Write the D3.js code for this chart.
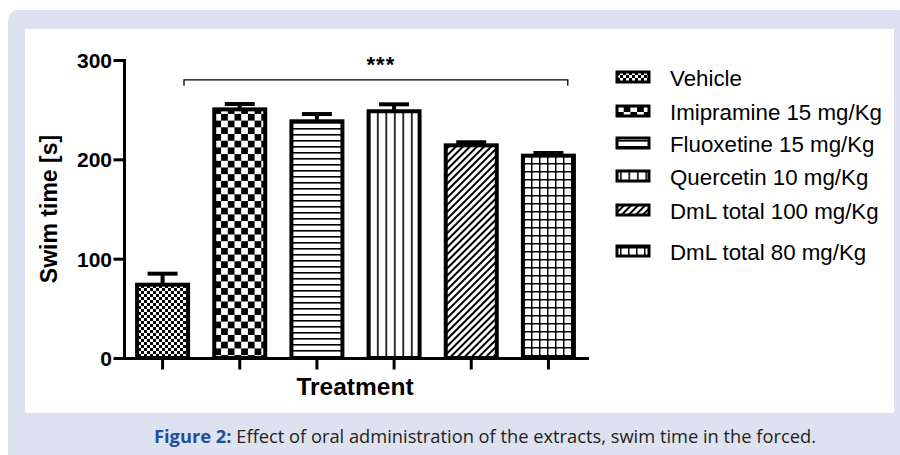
<!DOCTYPE html>
<html lang="en">
<head>
    <meta charset="UTF-8">
    <title>Swim time in the forced swimming test</title>
    <style>
        body { margin: 0; background: #fff; }
        svg { display: block; }
        .lab { font-family: "Liberation Sans", Arial, sans-serif; fill: #000; }
    </style>
    <script src="https://d3js.org/d3.v7.min.js"></script>
</head>
<body>
    <div id="chart"></div>
    <script>
        // values (mean and SEM, seconds)
        const groups = ["Vehicle", "Imipramine 15 mg/Kg", "Fluoxetine 15 mg/Kg",
            "Quercetin 10 mg/Kg", "DmL total 100 mg/Kg", "DmL total 80 mg/Kg"];
        const means = [73.8, 250.3, 238.3, 248.4, 214.1, 203.7];
        const sems = [11.1, 5.4, 7.3, 7.0, 3.1, 2.7];
        const fills = ["p-fine", "p-check", "p-hline", "p-vline", "p-diag", "p-grid"];
        const yTicks = [0, 100, 200, 300];
        const sigLevel = 280;   // height of the *** bracket
        const sigLabel = "***";

        const W = 900, H = 455;
        const svg = d3.select("#chart").append("svg")
            .attr("width", W).attr("height", H);

        // patterns
        const defs = svg.append("defs");
        function pat(id, w, h, transform) {
            const p = defs.append("pattern").attr("id", id)
                .attr("patternUnits", "userSpaceOnUse")
                .attr("width", w).attr("height", h);
            if (transform) p.attr("patternTransform", transform);
            p.append("rect").attr("width", w).attr("height", h).attr("fill", "#fff");
            return p;
        }
        let p = pat("p-fine", 6, 6);
        p.append("rect").attr("width", 3).attr("height", 3).attr("fill", "#000");
        p.append("rect").attr("x", 3).attr("y", 3).attr("width", 3).attr("height", 3).attr("fill", "#000");
        p = pat("p-check", 13.4, 13.4);
        p.append("rect").attr("width", 6.7).attr("height", 6.7).attr("fill", "#000");
        p.append("rect").attr("x", 6.7).attr("y", 6.7).attr("width", 6.7).attr("height", 6.7).attr("fill", "#000");
        p = pat("p-hline", 10, 6);
        p.append("rect").attr("y", 2).attr("width", 10).attr("height", 1.6).attr("fill", "#000");
        p = pat("p-vline", 8.5, 10);
        p.append("rect").attr("x", 3).attr("width", 1.6).attr("height", 10).attr("fill", "#000");
        p = pat("p-diag", 5, 10, "rotate(45)");
        p.append("rect").attr("x", 0).attr("width", 2).attr("height", 10).attr("fill", "#000");
        p = pat("p-grid", 8, 8);
        p.append("rect").attr("x", 3).attr("width", 1.5).attr("height", 8).attr("fill", "#000");
        p.append("rect").attr("y", 3).attr("width", 8).attr("height", 1.5).attr("fill", "#000");

        // frame
        svg.append("rect").attr("x", 8).attr("y", 10).attr("width", W).attr("height", H)
            .attr("rx", 10).attr("fill", "#dee1ef");
        svg.append("rect").attr("x", 25).attr("y", 29).attr("width", 869).attr("height", 384)
            .attr("fill", "#fff");

        // scales
        const x = d3.scaleBand().domain(groups).range([124, 587])
            .paddingInner(0.339).paddingOuter(0.1695);
        const y = d3.scaleLinear().domain([0, 300]).range([358, 60]);

        const plot = svg.append("g");

        // bars
        plot.selectAll("rect.bar").data(groups).join("rect")
            .attr("class", "bar")
            .attr("x", d => x(d))
            .attr("y", (d, i) => y(means[i]))
            .attr("width", x.bandwidth())
            .attr("height", (d, i) => y(0) - y(means[i]))
            .attr("fill", (d, i) => `url(#${fills[i]})`)
            .attr("stroke", "#000").attr("stroke-width", 4);

        // error bars
        const eb = plot.selectAll("g.eb").data(groups).join("g").attr("class", "eb");
        eb.append("line")
            .attr("x1", d => x(d) + x.bandwidth() / 2).attr("x2", d => x(d) + x.bandwidth() / 2)
            .attr("y1", (d, i) => y(means[i])).attr("y2", (d, i) => y(means[i] + sems[i]))
            .attr("stroke", "#000").attr("stroke-width", 4);
        eb.append("line")
            .attr("x1", d => x(d) + x.bandwidth() / 2 - 15).attr("x2", d => x(d) + x.bandwidth() / 2 + 15)
            .attr("y1", (d, i) => y(means[i] + sems[i])).attr("y2", (d, i) => y(means[i] + sems[i]))
            .attr("stroke", "#000").attr("stroke-width", 4);

        // significance bracket
        const bx1 = x(groups[0]) + x.bandwidth() * 0.92;
        const bx2 = x(groups[5]) + x.bandwidth() * 0.88;
        plot.append("path")
            .attr("d", `M${bx1},${y(sigLevel - 6)}V${y(sigLevel)}H${bx2}V${y(sigLevel - 6)}`)
            .attr("fill", "none").attr("stroke", "#000").attr("stroke-width", 1.3);
        plot.append("text").attr("class", "lab")
            .attr("x", (bx1 + bx2) / 2 + 5).attr("y", 72)
            .attr("text-anchor", "middle")
            .attr("font-size", 22).attr("font-weight", "bold")
            .attr("letter-spacing", 1)
            .text(sigLabel);

        // axes
        const yAxis = svg.append("g")
            .attr("transform", "translate(124,0)")
            .call(d3.axisLeft(y).tickValues(yTicks).tickSize(9).tickSizeOuter(0).tickPadding(3));
        const xAxis = svg.append("g")
            .attr("transform", "translate(0,358)")
            .call(d3.axisBottom(x).tickSize(10).tickSizeOuter(0).tickFormat(""));
        [yAxis, xAxis].forEach(a => {
            a.selectAll("path, line").attr("stroke", "#000").attr("stroke-width", 3)
                .attr("stroke-linecap", "square");
            a.selectAll("text").attr("class", "lab")
                .attr("font-size", 21).attr("font-weight", "bold").attr("fill", "#000");
        });
        yAxis.selectAll("text").attr("dy", "0.36em");

        // axis titles
        svg.append("text").attr("class", "lab")
            .attr("transform", "translate(57,209) rotate(-90)")
            .attr("text-anchor", "middle")
            .attr("font-size", 23).attr("font-weight", "bold")
            .text("Swim time [s]");
        svg.append("text").attr("class", "lab")
            .attr("x", 355).attr("y", 395)
            .attr("text-anchor", "middle")
            .attr("font-size", 24.5).attr("font-weight", "bold")
            .text("Treatment");

        // legend
        const rowY = [78, 112, 144, 177, 211, 252];
        const leg = svg.append("g").selectAll("g").data(groups).join("g")
            .attr("transform", (d, i) => `translate(617,${rowY[i]})`);
        leg.append("rect")
            .attr("x", 0).attr("y", -6).attr("width", 32).attr("height", 10)
            .attr("fill", (d, i) => `url(#${fills[i]})`)
            .attr("stroke", "#000").attr("stroke-width", 3);
        leg.append("text").attr("class", "lab")
            .attr("x", 53).attr("y", 8)
            .attr("font-size", 22.3)
            .text(d => d);

        // caption
        const cap = svg.append("text")
            .attr("x", 154).attr("y", 443)
            .attr("font-family", "'Open Sans', 'Noto Sans', sans-serif")
            .attr("font-size", 18)
            .attr("textLength", 662).attr("lengthAdjust", "spacingAndGlyphs");
        cap.append("tspan").attr("fill", "#1c4f9c").attr("font-weight", "bold").text("Figure 2:");
        cap.append("tspan").attr("fill", "#231f20").text(" Effect of oral administration of the extracts, swim time in the forced.");
    </script>
</body>
</html>
